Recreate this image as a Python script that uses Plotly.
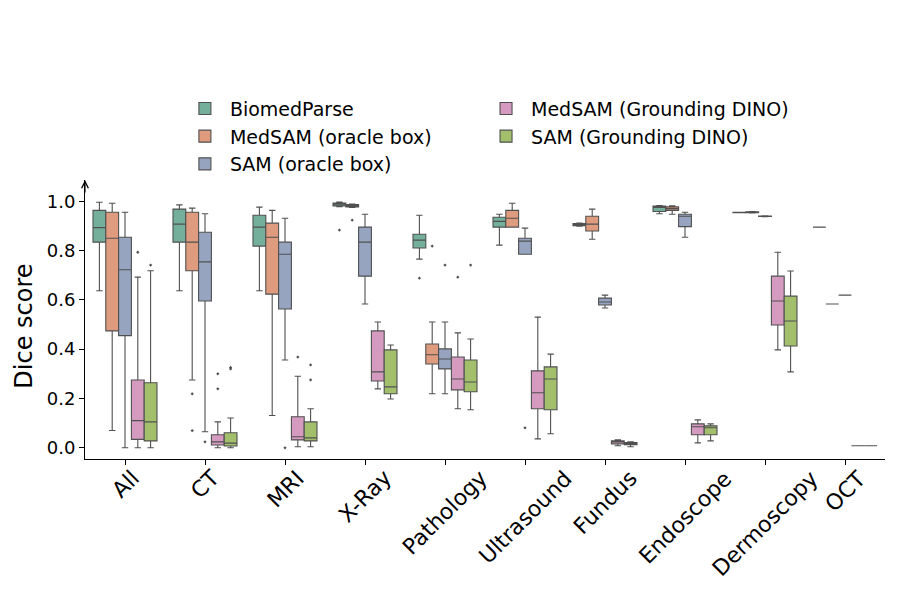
import plotly.graph_objects as go

categories = ["All", "CT", "MRI", "X-Ray", "Pathology", "Ultrasound",
              "Fundus", "Endoscope", "Dermoscopy", "OCT"]

series_names = ["BiomedParse", "MedSAM (oracle box)", "SAM (oracle box)",
                "MedSAM (Grounding DINO)", "SAM (Grounding DINO)"]

y_title = "Dice score"

# ---- BiomedParse
bp_low = [0.637, 0.637, 0.637, 0.978, 0.765, 0.822, 0.899, 0.949, 0.953, 0.895]
bp_q1 = [0.834, 0.834, 0.818, 0.981, 0.810, 0.895, 0.901, 0.958, 0.953, 0.895]
bp_med = [0.893, 0.907, 0.895, 0.988, 0.842, 0.918, 0.905, 0.975, 0.954, 0.895]
bp_q3 = [0.963, 0.968, 0.943, 0.993, 0.866, 0.935, 0.909, 0.980, 0.955, 0.895]
bp_high = [0.996, 0.985, 0.976, 0.997, 0.943, 0.947, 0.911, 0.982, 0.955, 0.895]
bp_out_cat = [3, 4]
bp_out_val = [0.883, 0.688]

# ---- MedSAM (oracle box)
mo_low = [0.070, 0.275, 0.131, 0.975, 0.219, 0.895, 0.846, 0.947, 0.952, 0.583]
mo_q1 = [0.474, 0.718, 0.623, 0.977, 0.340, 0.895, 0.879, 0.963, 0.953, 0.583]
mo_med = [0.850, 0.834, 0.854, 0.982, 0.377, 0.931, 0.907, 0.970, 0.955, 0.583]
mo_q3 = [0.955, 0.955, 0.911, 0.986, 0.421, 0.963, 0.939, 0.977, 0.957, 0.583]
mo_high = [0.992, 0.972, 0.963, 0.988, 0.510, 0.992, 0.968, 0.981, 0.958, 0.583]
mo_out_cat = [1, 1, 3, 4]
mo_out_val = [0.219, 0.070, 0.923, 0.818]

# ---- SAM (oracle box)
so_low = [0.000, 0.065, 0.356, 0.583, 0.219, 0.785, 0.567, 0.854, 0.937, 0.619]
so_q1 = [0.455, 0.595, 0.563, 0.696, 0.320, 0.785, 0.579, 0.897, 0.938, 0.619]
so_med = [0.722, 0.754, 0.785, 0.834, 0.360, 0.838, 0.591, 0.939, 0.939, 0.619]
so_q3 = [0.854, 0.874, 0.834, 0.895, 0.401, 0.850, 0.607, 0.947, 0.940, 0.619]
so_high = [0.955, 0.949, 0.931, 0.947, 0.510, 0.891, 0.619, 0.955, 0.941, 0.619]
so_out_cat = [1, 2, 4, 5]
so_out_val = [0.024, 0.000, 0.741, 0.081]

# ---- MedSAM (Grounding DINO)
mg_low = [0.000, 0.000, 0.004, 0.239, 0.158, 0.036, 0.008, 0.020, 0.397, 0.008]
mg_q1 = [0.034, 0.011, 0.032, 0.271, 0.235, 0.158, 0.016, 0.053, 0.498, 0.008]
mg_med = [0.110, 0.024, 0.045, 0.308, 0.279, 0.223, 0.024, 0.085, 0.595, 0.008]
mg_q3 = [0.275, 0.053, 0.126, 0.474, 0.368, 0.312, 0.028, 0.097, 0.696, 0.008]
mg_high = [0.692, 0.105, 0.290, 0.510, 0.466, 0.530, 0.032, 0.113, 0.793, 0.008]
mg_out_cat = [0, 1, 1, 2, 4]
mg_out_val = [0.793, 0.300, 0.239, 0.368, 0.692]

# ---- SAM (Grounding DINO)
sg_low = [0.000, 0.000, 0.004, 0.198, 0.154, 0.057, 0.004, 0.028, 0.308, 0.008]
sg_q1 = [0.028, 0.007, 0.028, 0.219, 0.227, 0.154, 0.012, 0.053, 0.413, 0.008]
sg_med = [0.105, 0.019, 0.040, 0.247, 0.267, 0.279, 0.018, 0.081, 0.514, 0.008]
sg_q3 = [0.264, 0.061, 0.105, 0.397, 0.356, 0.328, 0.021, 0.089, 0.615, 0.008]
sg_high = [0.718, 0.121, 0.158, 0.417, 0.441, 0.380, 0.024, 0.097, 0.717, 0.008]
sg_out_cat = [0, 1, 1, 2, 2, 4]
sg_out_val = [0.741, 0.326, 0.320, 0.336, 0.275, 0.741]

ytick_vals = [0.0, 0.2, 0.4, 0.6, 0.8, 1.0]

series = [
    (bp_low, bp_q1, bp_med, bp_q3, bp_high, bp_out_cat, bp_out_val),
    (mo_low, mo_q1, mo_med, mo_q3, mo_high, mo_out_cat, mo_out_val),
    (so_low, so_q1, so_med, so_q3, so_high, so_out_cat, so_out_val),
    (mg_low, mg_q1, mg_med, mg_q3, mg_high, mg_out_cat, mg_out_val),
    (sg_low, sg_q1, sg_med, sg_q3, sg_high, sg_out_cat, sg_out_val),
]

colors = ["#73af9b", "#de9b7e", "#97a4c0", "#d49abf", "#a2bf6c"]
line_col = "#505050"
font_family = "DejaVu Sans"
n = len(series)
box_w = 0.8 / n
offsets = [(k - (n - 1) / 2) * box_w for k in range(n)]
legend_ids = ["legend", "legend", "legend", "legend2", "legend2"]

fig = go.Figure()
for k, (lo, q1, med, q3, hi, oc, ov) in enumerate(series):
    xs = [i + offsets[k] for i in range(len(categories))]
    fig.add_trace(go.Box(
        x=xs, q1=q1, median=med, q3=q3, lowerfence=lo, upperfence=hi,
        width=box_w, whiskerwidth=0.5, boxpoints=False,
        fillcolor=colors[k], line=dict(color=line_col, width=1.1),
        name=series_names[k], legend=legend_ids[k], legendgroup=series_names[k],
    ))
    fig.add_trace(go.Scatter(
        x=[c + offsets[k] for c in oc], y=ov, mode="markers",
        marker=dict(size=2.5, color=line_col, symbol="diamond"),
        showlegend=False, legendgroup=series_names[k], hoverinfo="y",
    ))

# x tick labels, rotated and centered like the reference
annotations = []
for i, c in enumerate(categories):
    annotations.append(dict(
        x=i, xref="x", y=0, yref="paper", text=c, showarrow=False,
        textangle=-45, xanchor="center", yanchor="top", yshift=-4,
        font=dict(size=22, family=font_family, color="black"),
    ))
# y axis title
annotations.append(dict(
    x=-0.0763, xref="paper", y=0.4776, yref="paper", text=y_title,
    showarrow=False, textangle=-90, xanchor="center", yanchor="middle",
    font=dict(size=24, family=font_family, color="black"),
))
# arrow on top of y axis
annotations.append(dict(
    x=0, xref="paper", y=1, yref="paper", ax=0, ay=14, text="",
    showarrow=True, arrowhead=5, arrowsize=1.2, arrowwidth=1.1,
    arrowcolor="black", standoff=0,
))

fig.update_layout(
    width=900, height=600,
    margin=dict(l=77, r=23, t=172, b=148.5, autoexpand=False),
    paper_bgcolor="white", plot_bgcolor="white",
    boxmode="overlay",
    font=dict(family=font_family, color="black"),
    xaxis=dict(
        range=[-0.5, 9.5], tickvals=list(range(len(categories))),
        showticklabels=False, ticks="outside", ticklen=5, tickwidth=1.1,
        tickcolor="black", showline=True, linecolor="black", linewidth=1.1,
        showgrid=False, zeroline=False,
    ),
    yaxis=dict(
        range=[-0.0455, 1.086], tickvals=ytick_vals, tickformat=".1f",
        ticks="outside", ticklen=5, tickwidth=1.1, tickcolor="black",
        tickfont=dict(size=18, family=font_family),
        showline=True, linecolor="black", linewidth=1.1,
        showgrid=False, zeroline=False,
    ),
    legend=dict(
        xref="container", yref="container",
        x=0.191, y=0.864, xanchor="left", yanchor="top",
        font=dict(size=19, family=font_family), bgcolor="rgba(0,0,0,0)",
        tracegroupgap=0, itemwidth=40,
    ),
    legend2=dict(
        xref="container", yref="container",
        x=0.5256, y=0.864, xanchor="left", yanchor="top",
        font=dict(size=19, family=font_family), bgcolor="rgba(0,0,0,0)",
        tracegroupgap=0, itemwidth=40,
    ),
    annotations=annotations,
)

fig.write_html("out.html")
